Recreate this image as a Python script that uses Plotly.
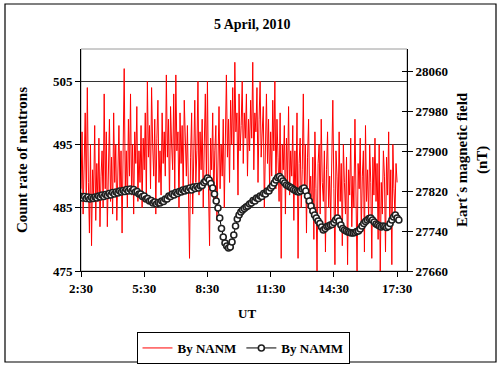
import plotly.graph_objects as go

# ---- data ----
# NANM neutron count rate, every 3 min from 2:30 to 17:30 (left axis)
nanm_h1 = [488, 497, 484, 493, 500, 486, 504, 489, 481, 495, 479, 491, 487, 498, 483, 492, 486, 496, 482, 490]
nanm_h2 = [494, 485, 503, 488, 497, 482, 492, 499, 486, 493, 484, 500, 489, 495, 483, 491, 498, 487, 494, 481]
nanm_h3 = [496, 507, 488, 494, 485, 499, 490, 503, 487, 495, 484, 497, 492, 501, 486, 494, 489, 498, 485, 496]
nanm_h4 = [491, 500, 486, 505, 493, 498, 488, 504, 495, 490, 499, 484, 496, 502, 489, 494, 487, 500, 492, 497]
nanm_h5 = [490, 506, 493, 499, 486, 501, 495, 491, 503, 488, 506, 494, 497, 485, 500, 492, 498, 487, 502, 495]
nanm_h6 = [490, 498, 486, 477, 493, 500, 484, 496, 502, 489, 494, 505, 487, 497, 491, 499, 485, 495, 503, 490]
nanm_h7 = [505, 488, 479, 496, 491, 500, 486, 494, 498, 483, 492, 501, 488, 495, 490, 499, 485, 497, 506, 493]
nanm_h8 = [499, 489, 502, 495, 504, 491, 508, 497, 500, 487, 503, 494, 498, 505, 492, 500, 496, 503, 490, 499]
nanm_h9 = [494, 502, 496, 508, 491, 500, 497, 504, 489, 499, 505, 493, 498, 501, 485, 496, 503, 492, 499, 488]
nanm_h10 = [497, 490, 502, 494, 505, 488, 499, 493, 486, 500, 477, 495, 491, 498, 484, 496, 489, 501, 487, 494]
nanm_h11 = [490, 498, 483, 494, 487, 500, 477, 492, 496, 485, 491, 503, 488, 495, 481, 493, 499, 486, 490, 484]
nanm_h12 = [493, 480, 497, 488, 475, 492, 495, 484, 499, 489, 486, 494, 478, 491, 497, 485, 490, 483, 496, 502]
nanm_h13 = [488, 476, 494, 490, 483, 497, 486, 492, 479, 495, 489, 484, 493, 476, 491, 487, 496, 482, 490, 485]
nanm_h14 = [499, 484, 475, 492, 488, 496, 481, 490, 494, 478, 498, 486, 491, 483, 495, 489, 477, 493, 487, 496]
nanm_h15 = [486, 492, 480, 495, 475, 489, 484, 494, 490, 478, 493, 487, 497, 482, 491, 476, 495, 488, 484, 492, 489]

# NAMM Earth's magnetic field (nT), every 5 min from 2:30 (right axis)
namm_h1 = [27809, 27806, 27809, 27805, 27808, 27804, 27807, 27805, 27808, 27806, 27810, 27808]
namm_h2 = [27812, 27809, 27813, 27811, 27815, 27812, 27817, 27814, 27818, 27816, 27820, 27818]
namm_h3 = [27821, 27819, 27823, 27820, 27824, 27820, 27823, 27818, 27819, 27814, 27814, 27809]
namm_h4 = [27810, 27804, 27805, 27800, 27801, 27796, 27798, 27794, 27797, 27796, 27800, 27799]
namm_h5 = [27804, 27804, 27810, 27809, 27814, 27812, 27817, 27815, 27819, 27818, 27822, 27820]
namm_h6 = [27824, 27822, 27826, 27822, 27828, 27825, 27829, 27826, 27830, 27831, 27837, 27840]
namm_h7 = [27846, 27842, 27835, 27826, 27814, 27800, 27786, 27766, 27745, 27728, 27716, 27710]
namm_h8 = [27706, 27708, 27718, 27732, 27750, 27764, 27772, 27778, 27782, 27785, 27788, 27790]
namm_h9 = [27794, 27796, 27801, 27800, 27806, 27805, 27810, 27809, 27815, 27814, 27820, 27820]
namm_h10 = [27826, 27830, 27836, 27842, 27847, 27849, 27845, 27840, 27836, 27832, 27830, 27828]
namm_h11 = [27826, 27823, 27821, 27819, 27818, 27820, 27824, 27826, 27820, 27810, 27800, 27790]
namm_h12 = [27780, 27772, 27766, 27760, 27755, 27748, 27742, 27745, 27749, 27750, 27752, 27753]
namm_h13 = [27757, 27762, 27766, 27760, 27752, 27745, 27742, 27740, 27738, 27737, 27736, 27736]
namm_h14 = [27737, 27739, 27740, 27744, 27750, 27755, 27759, 27762, 27765, 27766, 27762, 27758]
namm_h15 = [27754, 27752, 27750, 27748, 27750, 27749, 27747, 27749, 27755, 27762, 27768, 27772]
namm_end = [27766, 27762]

x_tick_vals = [2.5, 5.5, 8.5, 11.5, 14.5, 17.5]
x_tick_text = ["2:30", "5:30", "8:30", "11:30", "14:30", "17:30"]
left_ticks = [475, 485, 495, 505]
right_ticks = [27660, 27740, 27820, 27900, 27980, 28060]

nanm = (nanm_h1 + nanm_h2 + nanm_h3 + nanm_h4 + nanm_h5 + nanm_h6 + nanm_h7 + nanm_h8
        + nanm_h9 + nanm_h10 + nanm_h11 + nanm_h12 + nanm_h13 + nanm_h14 + nanm_h15)
namm = (namm_h1 + namm_h2 + namm_h3 + namm_h4 + namm_h5 + namm_h6 + namm_h7 + namm_h8
        + namm_h9 + namm_h10 + namm_h11 + namm_h12 + namm_h13 + namm_h14 + namm_h15 + namm_end)
t_nanm = [2.5 + i * 3 / 60 for i in range(len(nanm))]
t_namm = [2.5 + i * 5 / 60 for i in range(len(namm))]

FONT = "Liberation Serif"

fig = go.Figure()
fig.add_trace(go.Scatter(x=t_nanm, y=nanm, mode="lines", name="By NANM",
                         line=dict(color="#FF0000", width=1), yaxis="y"))
fig.add_trace(go.Scatter(x=t_namm, y=namm, mode="lines+markers", name="By NAMM",
                         line=dict(color="#000000", width=1),
                         marker=dict(symbol="circle", size=6, color="white",
                                     line=dict(color="#202020", width=1.6)),
                         yaxis="y2"))

L, R, T, B = 81, 93, 49, 97
PW, PH = 500 - L - R, 368 - T - B

def px(xp):
    return (xp - L) / PW

def py(yp):
    return (368 - B - yp) / PH

tickfont = dict(family=FONT, size=13, color="black", weight="bold")

def label(text, xp, yp, size, angle=0):
    return dict(text=f"<b>{text}</b>", xref="paper", yref="paper", x=px(xp), y=py(yp),
                xanchor="center", yanchor="middle", showarrow=False, textangle=angle,
                font=dict(family=FONT, size=size, color="black"))

fig.update_layout(
    width=500, height=368,
    margin=dict(l=L, r=R, t=T, b=B, autoexpand=False),
    paper_bgcolor="white", plot_bgcolor="white",
    showlegend=True,
    legend=dict(orientation="h", x=px(243), xanchor="center", y=py(332), yanchor="top",
                bordercolor="black", borderwidth=1, bgcolor="white",
                font=dict(family=FONT, size=13, color="black", weight="bold"),
                itemwidth=30, tracegroupgap=0),
    xaxis=dict(range=[2.5, 17.97], tickvals=x_tick_vals, ticktext=x_tick_text,
               ticks="outside", ticklen=5, tickcolor="black", showgrid=False,
               showline=True, linecolor="black", linewidth=1, zeroline=False,
               tickfont=tickfont),
    yaxis=dict(range=[475, 510.1], tickvals=left_ticks, ticks="outside", ticklen=5,
               tickcolor="black", showgrid=True, gridcolor="#333333", gridwidth=1,
               showline=True, linecolor="black", linewidth=1, zeroline=False,
               tickfont=tickfont),
    yaxis2=dict(range=[27660, 28104], tickvals=right_ticks, tickformat="d",
                overlaying="y", side="right",
                ticks="outside", ticklen=5, tickcolor="black", showgrid=False,
                showline=True, linecolor="black", linewidth=1, zeroline=False,
                tickfont=tickfont),
    yaxis3=dict(range=[27660, 28104], tickvals=right_ticks, overlaying="y", side="right",
                ticks="inside", ticklen=5, tickcolor="black", showgrid=False,
                showticklabels=False, showline=False, zeroline=False),
    shapes=[
        dict(type="rect", xref="paper", yref="paper", x0=0, x1=1, y0=0, y1=1,
             line=dict(color="#9a9a9a", width=1), layer="below"),
        dict(type="rect", xref="paper", yref="paper", x0=px(5), x1=px(496), y0=py(4), y1=py(362),
             line=dict(color="black", width=1.2), layer="below"),
    ],
    annotations=[
        label("5 April, 2010", 252, 24, 14),
        label("Count rate of neutrons", 22, 160, 15, -90),
        label("Eart´s magnetic field<br>(nT)", 472, 160, 15, -90),
        label("UT", 247, 313, 13),
    ],
)
# invisible trace to activate yaxis3 (inner half of the crossing ticks)
fig.add_trace(go.Scatter(x=[2.5], y=[27660], yaxis="y3", mode="markers",
                         marker=dict(opacity=0), showlegend=False, hoverinfo="skip"))

fig.write_html("out.html", config={"displayModeBar": False},
               post_script="document.body.style.margin='0';")
